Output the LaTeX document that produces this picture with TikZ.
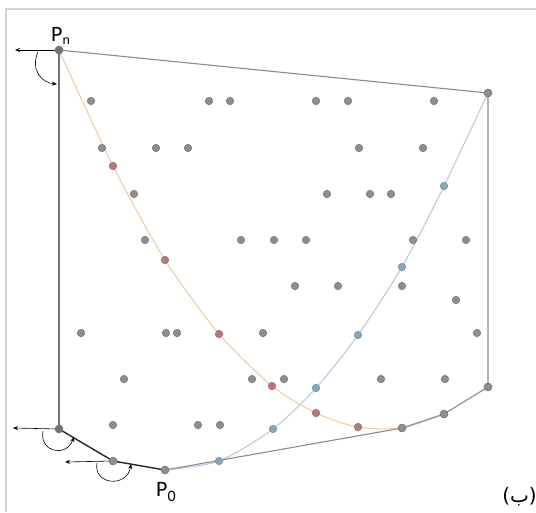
\documentclass[tikz,border=0pt]{standalone}
\usepackage{fontspec}
\setmainfont{Carlito}
\newfontfamily\arabicfont[Script=Arabic]{DejaVu Sans}
\TeXXeTstate=1
\usetikzlibrary{arrows.meta}
\definecolor{ptfill}{HTML}{8E8E8E}
\definecolor{ptline}{HTML}{707070}
\definecolor{redfill}{HTML}{B57A7A}
\definecolor{bluefill}{HTML}{85AAB8}
\definecolor{orangeline}{HTML}{EFCDB0}
\definecolor{blueline}{HTML}{B8CCDD}
\definecolor{hullgray}{HTML}{8C8C8C}
\definecolor{framegray}{HTML}{D4D4D4}
\tikzset{
  pt/.style={circle,inner sep=0pt,minimum size=7.5pt,fill=ptfill,draw=ptline,line width=0.5pt},
  redpt/.style={pt,fill=redfill,draw=redfill!80!black},
  bluept/.style={pt,fill=bluefill,draw=bluefill!80!black},
  hullpt/.style={pt,minimum size=8pt},
  hullline/.style={draw=hullgray,line width=1.1pt},
  darkline/.style={draw=black!85,line width=1.4pt},
  orangecurve/.style={draw=orangeline,line width=1.1pt},
  bluecurve/.style={draw=blueline,line width=1.1pt},
  arr/.style={draw=black,line width=0.6pt,-{Stealth[length=5pt,width=4pt]}},
  lbl/.style={inner sep=0pt,font=\fontsize{22}{22}\selectfont}
}
\begin{document}
\begin{tikzpicture}[x=1pt,y=-1pt]
\useasboundingbox (0,0) rectangle (536,512);
\fill[white] (0,0) rectangle (536,512);
% frame
\draw[framegray,line width=1.6pt] (6,512) -- (6,9) -- (536,9);
% hull vertices
\coordinate (pn) at (59,50);
\coordinate (tr) at (488,93);
\coordinate (br) at (488,387);
\coordinate (h1) at (444,414);
\coordinate (h2) at (402,428);
\coordinate (p0) at (165,470);
\coordinate (l1) at (113,461);
\coordinate (l2) at (59,429);
% red (orange curve) points
\coordinate (r1) at (113,166);
\coordinate (r2) at (165,260);
\coordinate (r3) at (219,334);
\coordinate (r4) at (272,386);
\coordinate (r5) at (316,413);
\coordinate (r6) at (358,427);
% blue curve points
\coordinate (b1) at (219,461);
\coordinate (b2) at (273,429);
\coordinate (b3) at (316,388);
\coordinate (b4) at (358,335);
\coordinate (b5) at (402,267);
\coordinate (b6) at (444,186);
% curves
\draw[orangecurve] plot[smooth,tension=0.45] coordinates {(pn) (r1) (r2) (r3) (r4) (r5) (r6) (h2) (h1)};
\draw[bluecurve] plot[smooth,tension=0.45] coordinates {(p0) (b1) (b2) (b3) (b4) (b5) (b6) (tr)};
% hull
\draw[hullline] (p0) -- (h2) -- (h1) -- (br) -- (tr) -- (pn);
\draw[darkline] (pn) -- (l2) -- (l1) -- (p0);
% interior points
\foreach \x/\y [count=\i] in {91/101,209/101,230/101,316/101,348/101,434/101,
  102/148,156/148,188/148,359/148,423/148,
  134/194,327/194,370/194,391/194,
  145/240,241/240,274/240,306/240,413/240,466/240,
  295/286,338/286,402/286,456/300,
  81/333,166/333,177/333,263/333,477/333,
  124/379,252/379,284/379,381/379,445/379,
  113/425,198/425,220/425}
  \node[pt] (g\i) at (\x,\y) {};
\foreach \c in {r1,r2,r3,r4,r5,r6} \node[redpt] (n\c) at (\c) {};
\foreach \c in {b1,b2,b3,b4,b5,b6} \node[bluept] (n\c) at (\c) {};
\foreach \c in {tr,br,h1,h2,p0,l1} \node[hullpt] (n\c) at (\c) {};
\node[hullpt,fill=ptfill!80!black] (npn) at (pn) {};
\node[hullpt,fill=ptfill!80!black] (nl2) at (l2) {};
% arrows
\coordinate (an) at (15,50);
\coordinate (a1) at (13,428);
\coordinate (a2) at (65,462);
\draw[arr] (npn) -- (an);
\draw[arr] (nl2) -- (a1);
\draw[arr] (nl1) -- (a2);
\coordinate (c0s) at (38,52);
\coordinate (c0e) at (57,84);
\coordinate (c1s) at (43,431);
\coordinate (c1e) at (74,437);
\coordinate (c2s) at (97,463);
\coordinate (c2e) at (131,464);
\draw[arr] (c0s) .. controls (30,70) and (42,83) .. (c0e);
\draw[arr] (c1s) .. controls (39,452) and (66,458) .. (c1e);
\draw[arr] (c2s) .. controls (93,485) and (127,488) .. (c2e);
% labels
\node[lbl,anchor=base west] (lpn) at (51,41) {P\raisebox{-3pt}{\fontsize{14}{14}\selectfont n}};
\node[lbl,anchor=base west] (lp0) at (156,496) {P\raisebox{-5pt}{\fontsize{16}{16}\selectfont 0}};
\node[inner sep=0pt,anchor=base east,font=\fontsize{20}{20}\selectfont] (lb) at (537,502) {\arabicfont\beginR (ب)\endR};
\end{tikzpicture}
\end{document}
